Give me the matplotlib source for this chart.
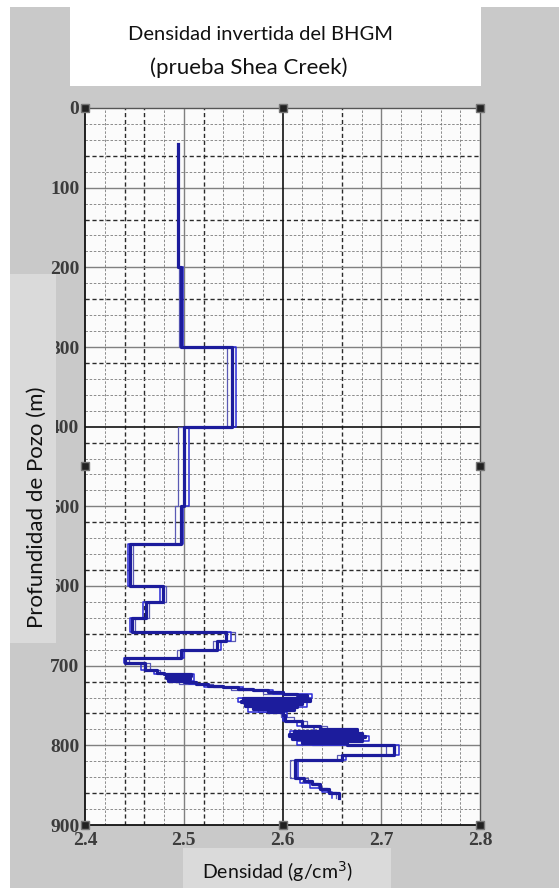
import matplotlib.pyplot as plt
from matplotlib.patches import Rectangle

# Perfil principal (profundidad del tope de cada tramo, densidad del tramo)
prof_main = [45, 200, 300, 400, 500, 547, 600, 620, 640, 658, 669, 680, 691, 697, 705,
             709, 711, 713, 715, 717, 719, 721, 723, 725, 727, 729, 731, 733, 735, 737,
             740, 742, 744, 746, 748, 750, 752, 754, 756, 758, 762, 769, 776, 780, 782,
             784, 786, 788, 790, 792, 794, 797, 800, 812, 818, 841, 845, 849, 855, 860, 866]
dens_main = [2.494, 2.497, 2.549, 2.500, 2.497, 2.446, 2.479, 2.462, 2.448, 2.543, 2.534,
             2.497, 2.441, 2.461, 2.473, 2.480, 2.507, 2.482, 2.506, 2.484, 2.500, 2.512,
             2.525, 2.540, 2.555, 2.570, 2.585, 2.600, 2.615, 2.625, 2.560, 2.628, 2.558,
             2.620, 2.562, 2.615, 2.570, 2.612, 2.585, 2.600, 2.603, 2.620, 2.638, 2.675,
             2.612, 2.680, 2.607, 2.684, 2.610, 2.680, 2.620, 2.665, 2.713, 2.660, 2.613,
             2.622, 2.630, 2.638, 2.647, 2.657]

# Otras inversiones (trazos finos)
prof_alt = [200, 300, 400, 500, 547, 600, 620, 640, 658, 669, 680, 691, 697, 705, 711,
            719, 723, 727, 731, 735, 740, 746, 752, 758, 764, 770, 776, 782, 788, 794,
            800, 812, 818, 841, 847, 853, 859, 866]
dens_alt1 = [2.495, 2.544, 2.494, 2.491, 2.449, 2.482, 2.465, 2.451, 2.552, 2.530, 2.493,
             2.445, 2.466, 2.476, 2.500, 2.495, 2.530, 2.548, 2.580, 2.620, 2.565, 2.610,
             2.575, 2.598, 2.612, 2.625, 2.645, 2.620, 2.676, 2.630, 2.705, 2.655, 2.608,
             2.626, 2.636, 2.645, 2.654]
dens_alt2 = [2.499, 2.553, 2.505, 2.499, 2.444, 2.476, 2.459, 2.446, 2.548, 2.538, 2.500,
             2.439, 2.457, 2.470, 2.510, 2.505, 2.520, 2.560, 2.590, 2.630, 2.555, 2.625,
             2.565, 2.605, 2.600, 2.615, 2.632, 2.608, 2.688, 2.615, 2.718, 2.664, 2.616,
             2.618, 2.628, 2.640, 2.650]

x_ticks = [2.4, 2.5, 2.6, 2.7, 2.8]
y_ticks = [0, 100, 200, 300, 400, 500, 600, 700, 800, 900]


def escalon(prof, dens):
    # puntos para drawstyle steps-pre (ultimo valor repetido hasta el fondo)
    return dens + [dens[-1]], prof


fig = plt.figure(figsize=(5.59, 8.88), dpi=100)
fig.patch.set_facecolor('white')

# fondos y cajas de texto
fig.patches.append(Rectangle((10 / 559, 0), 1, 1 - 7 / 888, transform=fig.transFigure,
                             facecolor='#c9c9c9', edgecolor='none', zorder=-2))
fig.patches.append(Rectangle((70 / 559, 1 - 86 / 888), 411 / 559, 79 / 888,
                             transform=fig.transFigure, facecolor='white',
                             edgecolor='none', zorder=-1))

ax = fig.add_axes([85 / 559, 1 - 825 / 888, 395 / 559, 717 / 888])
ax.set_zorder(1)
ax.set_facecolor('#fbfbfb')
ax.set_xlim(2.4, 2.8)
ax.set_ylim(900, 0)

# cuadricula estilo MATLAB
for i in range(1, 20):
    xv = round(2.4 + 0.02 * i, 2)
    if i % 5 == 0:
        continue
    if xv in (2.44, 2.46, 2.52, 2.66):
        ax.axvline(xv, color='#2a2a2a', lw=1.0, ls=(0, (3, 2)), zorder=1)
    else:
        ax.axvline(xv, color='#7a7a7a', lw=0.6, ls=(0, (3, 2)), zorder=1)
for i in range(1, 45):
    yv = 20 * i
    if yv % 100 == 0:
        continue
    if yv in (60, 140, 240, 320, 420, 520, 580, 660, 720, 760, 860):
        ax.axhline(yv, color='#2a2a2a', lw=1.0, ls=(0, (3, 2)), zorder=1)
    else:
        ax.axhline(yv, color='#7a7a7a', lw=0.6, ls=(0, (3, 2)), zorder=1)
for xv in [2.5, 2.7]:
    ax.axvline(xv, color='#808080', lw=1.0, zorder=1)
for yv in [100, 200, 300, 500, 600, 700, 800]:
    ax.axhline(yv, color='#808080', lw=1.0, zorder=1)
ax.axvline(2.6, color='#111111', lw=1.2, zorder=1)
ax.axhline(400, color='#111111', lw=1.2, zorder=1)

# perfiles de densidad
xa, ya = escalon(prof_alt, dens_alt1)
ax.plot(xa, ya, drawstyle='steps-pre', color='#5a5ab4', lw=0.9, zorder=3)
xa, ya = escalon(prof_alt, dens_alt2)
ax.plot(xa, ya, drawstyle='steps-pre', color='#2a2ad8', lw=1.1, zorder=3)
xm, ym = escalon(prof_main, dens_main)
ax.plot(xm, ym, drawstyle='steps-pre', color='#1c1c9c', lw=2.3, zorder=4)

# manijas de seleccion
hx = [2.4, 2.6, 2.8, 2.4, 2.8, 2.4, 2.6, 2.8]
hy = [0, 0, 0, 450, 450, 900, 900, 900]
ax.plot(hx, hy, ls='none', marker='s', ms=6, color='#222222', mec='#777777',
        clip_on=False, zorder=6)

ax.set_xticks(x_ticks)
ax.set_xticklabels(['2.4', '2.5', '2.6', '2.7', '2.8'])
ax.set_yticks(y_ticks)
ax.set_yticklabels([str(v) for v in y_ticks])
ax.tick_params(length=0, labelsize=14, labelcolor='#3c3c3c')
ax.tick_params(axis='x', pad=5)
ax.tick_params(axis='y', pad=4)
for lab in ax.get_xticklabels() + ax.get_yticklabels():
    lab.set_fontfamily('Liberation Serif')
    lab.set_fontweight('bold')
for s in ['left', 'bottom']:
    ax.spines[s].set_color('#111111')
    ax.spines[s].set_linewidth(1.3)
for s in ['top', 'right']:
    ax.spines[s].set_color('#555555')
    ax.spines[s].set_linewidth(1.0)

# titulo
fig.text(260 / 559, 1 - 34 / 888, 'Densidad invertida del BHGM', ha='center', va='center',
         fontsize=14.5, family='Lato', color='#111111')
fig.text(249 / 559, 1 - 68 / 888, '(prueba Shea Creek)', ha='center', va='center',
         fontsize=16, family='Lato', color='#111111')

# etiqueta eje y en caja (encima de las etiquetas de ticks)
fig.patches.append(Rectangle((10 / 559, 1 - 643 / 888), 46 / 559, 369 / 888,
                             transform=fig.transFigure, facecolor='#dadada',
                             edgecolor='none', zorder=5))
fig.text(37 / 559, 1 - 507 / 888, 'Profundidad de Pozo (m)', rotation=90, ha='center',
         va='center', fontsize=16, family='Lato', color='#111111', zorder=6)

# etiqueta eje x en caja
fig.patches.append(Rectangle((183 / 559, 0), 208 / 559, 40 / 888,
                             transform=fig.transFigure, facecolor='#dadada',
                             edgecolor='none', zorder=5))
fig.text(277 / 559, 1 - 872 / 888, 'Densidad (g/cm$^3$)', ha='center', va='center',
         fontsize=14, family='Lato', color='#111111', zorder=6)

fig.savefig('out.png', dpi=100)
